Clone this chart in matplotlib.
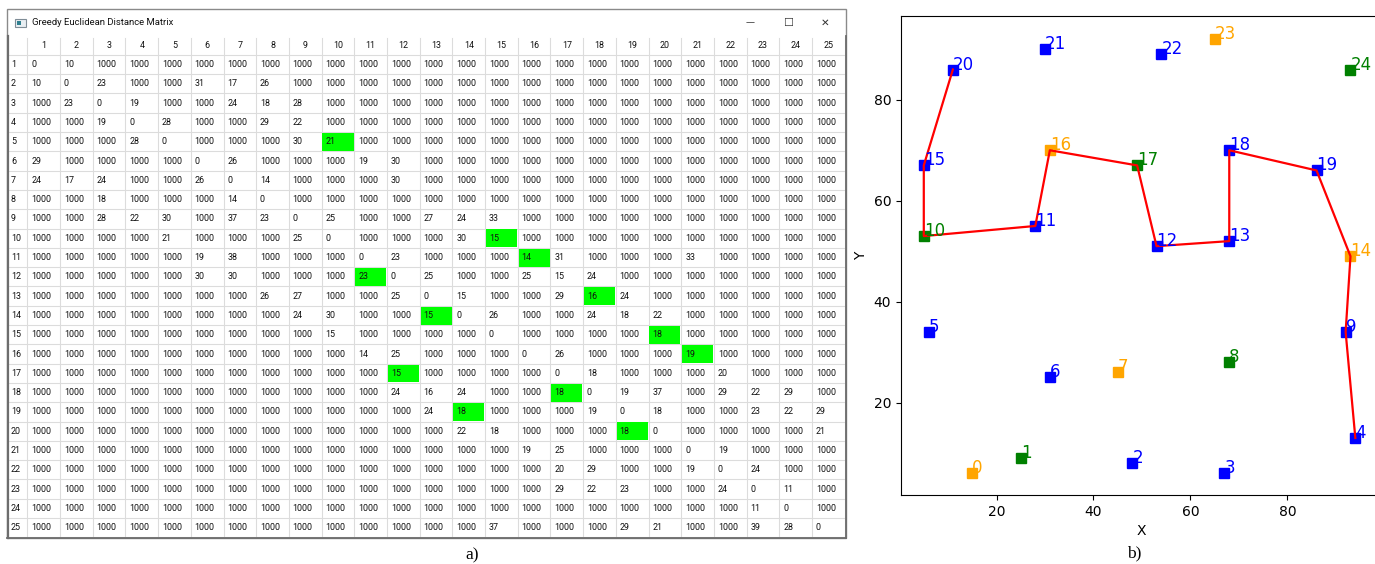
import matplotlib
matplotlib.use("Agg")
import matplotlib.pyplot as plt
from matplotlib.patches import Rectangle

# ---------------- data: distance matrix (1-based rows/cols 1..25) ----------------
K = 1000
matrix_rows = [
    [0, 10] + [K] * 23,
    [10, 0, 23, K, K, 31, 17, 26] + [K] * 17,
    [K, 23, 0, 19, K, K, 24, 18, 28] + [K] * 16,
    [K, K, 19, 0, 28, K, K, 29, 22] + [K] * 16,
    [K, K, K, 28, 0, K, K, K, 30, 21] + [K] * 15,
    [29, K, K, K, K, 0, 26, K, K, K, 19, 30] + [K] * 13,
    [24, 17, 24, K, K, 26, 0, 14, K, K, K, 30] + [K] * 13,
    [K, K, 18, K, K, K, 14, 0] + [K] * 17,
    [K, K, 28, 22, 30, K, 37, 23, 0, 25, K, K, 27, 24, 33] + [K] * 10,
    [K, K, K, K, 21, K, K, K, 25, 0, K, K, K, 30, 15] + [K] * 10,
    [K] * 5 + [19, 38, K, K, K, 0, 23, K, K, K, 14, 31, K, K, K, 33, K, K, K, K],
    [K] * 5 + [30, 30, K, K, K, 23, 0, 25, K, K, 25, 15, 24] + [K] * 7,
    [K] * 7 + [26, 27, K, K, 25, 0, 15, K, K, 29, 16, 24] + [K] * 6,
    [K] * 8 + [24, 30, K, K, 15, 0, 26, K, K, 24, 18, 22] + [K] * 5,
    [K] * 9 + [15, K, K, K, K, 0, K, K, K, K, 18] + [K] * 5,
    [K] * 10 + [14, 25, K, K, K, 0, 26, K, K, K, 19] + [K] * 4,
    [K] * 11 + [15, K, K, K, K, 0, 18, K, K, K, 20, K, K, K],
    [K] * 11 + [24, 16, 24, K, K, 18, 0, 19, 37, K, 29, 22, 29, K],
    [K] * 12 + [24, 18, K, K, K, 19, 0, 18, K, K, 23, 22, 29],
    [K] * 13 + [22, 18, K, K, K, 18, 0, K, K, K, K, 21],
    [K] * 15 + [19, 25, K, K, K, 0, 19, K, K, K],
    [K] * 16 + [20, 29, K, K, 19, 0, 24, K, K],
    [K] * 16 + [29, 22, 23, K, K, 24, 0, 11, K],
    [K] * 22 + [11, 0, K],
    [K] * 14 + [37, K, K, K, 29, 21, K, K, 39, 28, 0],
]
# highlighted (row, col), 1-based
highlight_cells = [(5, 10), (10, 15), (11, 16), (12, 11), (13, 18), (14, 13),
                   (15, 20), (16, 21), (17, 12), (18, 17), (19, 14), (20, 19)]
col_labels = [str(i) for i in range(1, 26)]
row_labels = [str(i) for i in range(1, 26)]
window_title = "Greedy Euclidean Distance Matrix"

# ---------------- data: points for panel b ----------------
point_x = [15, 25, 48, 67, 94, 6, 31, 45, 68, 92, 5, 28, 53, 68, 93, 5, 31, 49, 68, 86, 11, 30, 54, 65, 93]
point_y = [6, 9, 8, 6, 13, 34, 25, 26, 28, 34, 53, 55, 51, 52, 49, 67, 70, 67, 70, 66, 86, 90, 89, 92, 86]
point_color = ["orange", "green", "blue", "blue", "blue", "blue", "blue", "orange", "green", "blue",
               "green", "blue", "blue", "blue", "orange", "blue", "orange", "green", "blue", "blue",
               "blue", "blue", "blue", "orange", "green"]
path_order = [20, 15, 10, 11, 16, 17, 12, 13, 18, 19, 14, 9, 4]
x_ticks = [20, 40, 60, 80]
y_ticks = [20, 40, 60, 80]

# ---------------- figure ----------------
W, H = 1375, 564
fig = plt.figure(figsize=(W / 100, H / 100), dpi=100)
bg = fig.add_axes([0, 0, 1, 1])
bg.set_xlim(0, W)
bg.set_ylim(H, 0)
bg.axis("off")

# window geometry (pixels)
WL, WR, WT, WB = 7.5, 846.5, 8.5, 537.8
HEAD_TOP = 35.5
TX0, CW = 27.3, 32.7
RY0, RH = 54.85, 19.3
ncols = len(col_labels)
nrows = len(row_labels)
tfont = "Roboto"
tsize = 6.4
grid_c = "#dcdcdc"

# window frame
bg.add_patch(Rectangle((WL, WT), WR - WL, WB - WT, facecolor="white",
                       edgecolor="#8a8a8a", lw=1.0, zorder=1))
bg.plot([WL + 0.8, WL + 0.8], [HEAD_TOP, WB], color="#6d6d6d", lw=1.6, zorder=5)
bg.plot([WR - 0.6, WR - 0.6], [HEAD_TOP, WB], color="#6d6d6d", lw=1.3, zorder=5)
bg.plot([WL, WR], [WB, WB], color="#6d6d6d", lw=1.3, zorder=5)

# title bar
bg.add_patch(Rectangle((15, 19), 11, 8, facecolor="#e8eef2", edgecolor="#7f8c96", lw=0.8, zorder=3))
bg.add_patch(Rectangle((17, 21), 4, 4, facecolor="#2f7f8f", edgecolor="none", zorder=4))
bg.text(32, 22.5, window_title, fontsize=6.8, family=tfont, va="center", ha="left", color="#111111")
bg.text(750, 22.5, "\u2014", fontsize=6.5, va="center", ha="center", color="#333333")
bg.text(788, 22.5, "\u2610", fontsize=8, va="center", ha="center", color="#333333")
bg.text(825, 22.5, "\u2715", fontsize=7.5, va="center", ha="center", color="#333333")

# grid
table_right = TX0 + ncols * CW
table_bottom = RY0 + nrows * RH
for j in range(ncols + 1):
    xx = TX0 + j * CW
    bg.plot([xx, xx], [HEAD_TOP + 2, table_bottom], color=grid_c, lw=0.8, zorder=2)
for i in range(nrows + 1):
    yy = RY0 + i * RH
    bg.plot([WL + 1.5, table_right], [yy, yy], color=grid_c, lw=0.8, zorder=2)

# highlighted cells
for (r, c) in highlight_cells:
    bg.add_patch(Rectangle((TX0 + (c - 1) * CW + 0.8, RY0 + (r - 1) * RH + 0.9),
                           CW - 1.6, RH - 1.4, facecolor="#00ff00", edgecolor="none", zorder=3))

# header
for j, lab in enumerate(col_labels):
    bg.text(TX0 + (j + 0.5) * CW, (HEAD_TOP + RY0) / 2 + 0.5, lab, fontsize=tsize, family=tfont,
            ha="center", va="center", color="#111111", zorder=4)
# row labels + values
for i, lab in enumerate(row_labels):
    yc = RY0 + (i + 0.5) * RH
    bg.text(11, yc, lab, fontsize=tsize, family=tfont, ha="left", va="center", color="#111111", zorder=4)
    for j, v in enumerate(matrix_rows[i]):
        bg.text(TX0 + j * CW + 3.8, yc, str(v), fontsize=tsize, family=tfont,
                ha="left", va="center", color="#111111", zorder=4)

# captions
bg.text(472, 555, "a)", fontsize=12.5, family="Liberation Serif", ha="center", va="center")
bg.text(1134, 553, "b)", fontsize=12.5, family="Liberation Serif", ha="center", va="center")

# ---------------- panel b ----------------
ax_left = 901 / W
ax_bottom = (H - 495) / H
ax_h = (495 - 16) / H
ax_w = 481 / W
ax = fig.add_axes([ax_left, ax_bottom, ax_w, ax_h])
ax.set_xlim(0.3, 99.5)
ax.set_ylim(1.7, 96.6)
for i in range(len(point_x)):
    ax.plot(point_x[i], point_y[i], marker="s", markersize=6.5, color=point_color[i],
            linestyle="none", zorder=3)
    ax.text(point_x[i], point_y[i], str(i), color=point_color[i], fontsize=12, zorder=5)
ax.plot([point_x[k] for k in path_order], [point_y[k] for k in path_order],
        color="red", lw=1.6, zorder=4)
ax.set_xticks(x_ticks)
ax.set_yticks(y_ticks)
ax.set_xlabel("X")
ax.set_ylabel("Y")
ax.spines["right"].set_visible(False)

fig.savefig("out.png", dpi=100)
